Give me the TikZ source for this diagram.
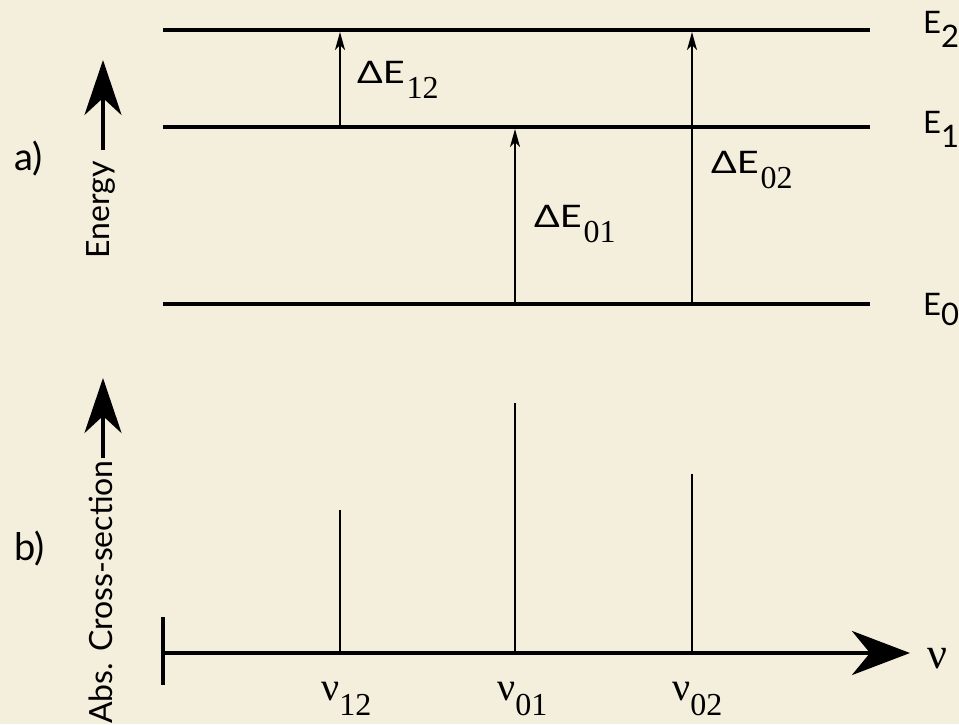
\documentclass[tikz,border=0pt]{standalone}
\usepackage{fontspec}
\setmainfont{Liberation Serif}
\setsansfont{Lato}
\usetikzlibrary{arrows.meta, calc}
\definecolor{paper}{HTML}{F4EEDC}
\newcommand{\lowsub}[2][15pt]{\raisebox{-#1}{#2}}
\newcommand{\dE}[1]{\scalebox{1.22}[1]{ΔE}\hspace{2pt}\lowsub{\rmfamily\fontsize{32}{36}\selectfont #1}}

\begin{document}
\begin{tikzpicture}[
  x=1pt, y=-1pt,
  level/.style={line width=4.5pt},
  trans/.style={line width=1.6pt, -{Stealth[length=18pt, width=10pt, inset=5pt]}},
  bigarr/.style={line width=4pt, -{Stealth[length=55pt, width=37pt, inset=17pt]}},
  axisarr/.style={line width=4.5pt, -{Stealth[length=58pt, width=44pt, inset=18pt]}},
  peak/.style={line width=1.6pt},
  sflab/.style={font=\sffamily\fontsize{31}{36}\selectfont, inner sep=0pt, anchor=base west},
  elab/.style={font=\sffamily\fontsize{31}{36}\selectfont, inner sep=0pt, anchor=base west},
  nulab/.style={font=\rmfamily\fontsize{40}{46}\selectfont, inner sep=0pt, anchor=base west},
  vlab/.style={font=\sffamily\fontsize{32}{36}\selectfont, rotate=90, inner sep=0pt},
  panel/.style={font=\sffamily\fontsize{38}{40}\selectfont, inner sep=0pt, anchor=base west}
]
% background
\fill[paper] (0,0) rectangle (959,724);
\useasboundingbox (0,0) rectangle (959,724);

% energy levels
\coordinate (L2w) at (163,30);  \coordinate (L2e) at (870,30);
\coordinate (L1w) at (163,127); \coordinate (L1e) at (870,127);
\coordinate (L0w) at (163,304); \coordinate (L0e) at (870,304);
\draw[level] (L2w) -- (L2e);
\draw[level] (L1w) -- (L1e);
\draw[level] (L0w) -- (L0e);

\node[elab] (E2) at (923,33)  {E\lowsub[14pt]{2}};
\node[elab] (E1) at (923,133) {E\lowsub[14pt]{1}};
\node[elab] (E0) at (923,315) {E\lowsub[10pt]{0}};

% transition columns
\coordinate (c12) at (340,0);
\coordinate (c01) at (515,0);
\coordinate (c02) at (692,0);

\draw[trans] ($(c12 |- L1w)+(0,-2)$) -- ($(c12 |- L2w)+(0,2)$);
\draw[trans] ($(c01 |- L0w)+(0,-2)$) -- ($(c01 |- L1w)+(0,2)$);
\draw[trans] ($(c02 |- L0w)+(0,-2)$) -- ($(c02 |- L2w)+(0,2)$);

\node[sflab] (dE12) at (357,83)  {\dE{12}};
\node[sflab] (dE01) at (534,227) {\dE{01}};
\node[sflab] (dE02) at (711,173) {\dE{02}};

% panel a) axis
\coordinate (en0) at (103,150);
\coordinate (en1) at (103,60);
\draw[bigarr] (en0) -- (en1);
\node[vlab] (energy) at (101,210) {Energy};
\node[panel] (pa) at (14,170) {a)};

% panel b) spectrum
\coordinate (ax0) at (163,653);
\coordinate (ax1) at (910,653);
\draw[axisarr] (ax0) -- (ax1);
\draw[level] (163,617) coordinate (tk0) -- (163,685) coordinate (tk1);
\node[nulab, font=\rmfamily\fontsize{44}{46}\selectfont] (nu) at (927,668) {ν};

\coordinate (p12) at (340,510);
\coordinate (p01) at (515,403);
\coordinate (p02) at (692,474);
\draw[peak] (c12 |- ax0) -- (p12);
\draw[peak] (c01 |- ax0) -- (p01);
\draw[peak] (c02 |- ax0) -- (p02);

\node[nulab] (nu12) at (321,700) {ν\lowsub{\fontsize{32}{36}\selectfont 12}};
\node[nulab] (nu01) at (497,700) {ν\lowsub{\fontsize{32}{36}\selectfont 01}};
\node[nulab] (nu02) at (672,700) {ν\lowsub{\fontsize{32}{36}\selectfont 02}};

\coordinate (cs0) at (103,458);
\coordinate (cs1) at (103,378);
\draw[bigarr] (cs0) -- (cs1);
\node[vlab] (cross) at (101,592) {Abs. Cross-section};
\node[panel] (pb) at (14,560) {b)};
\end{tikzpicture}
\end{document}
